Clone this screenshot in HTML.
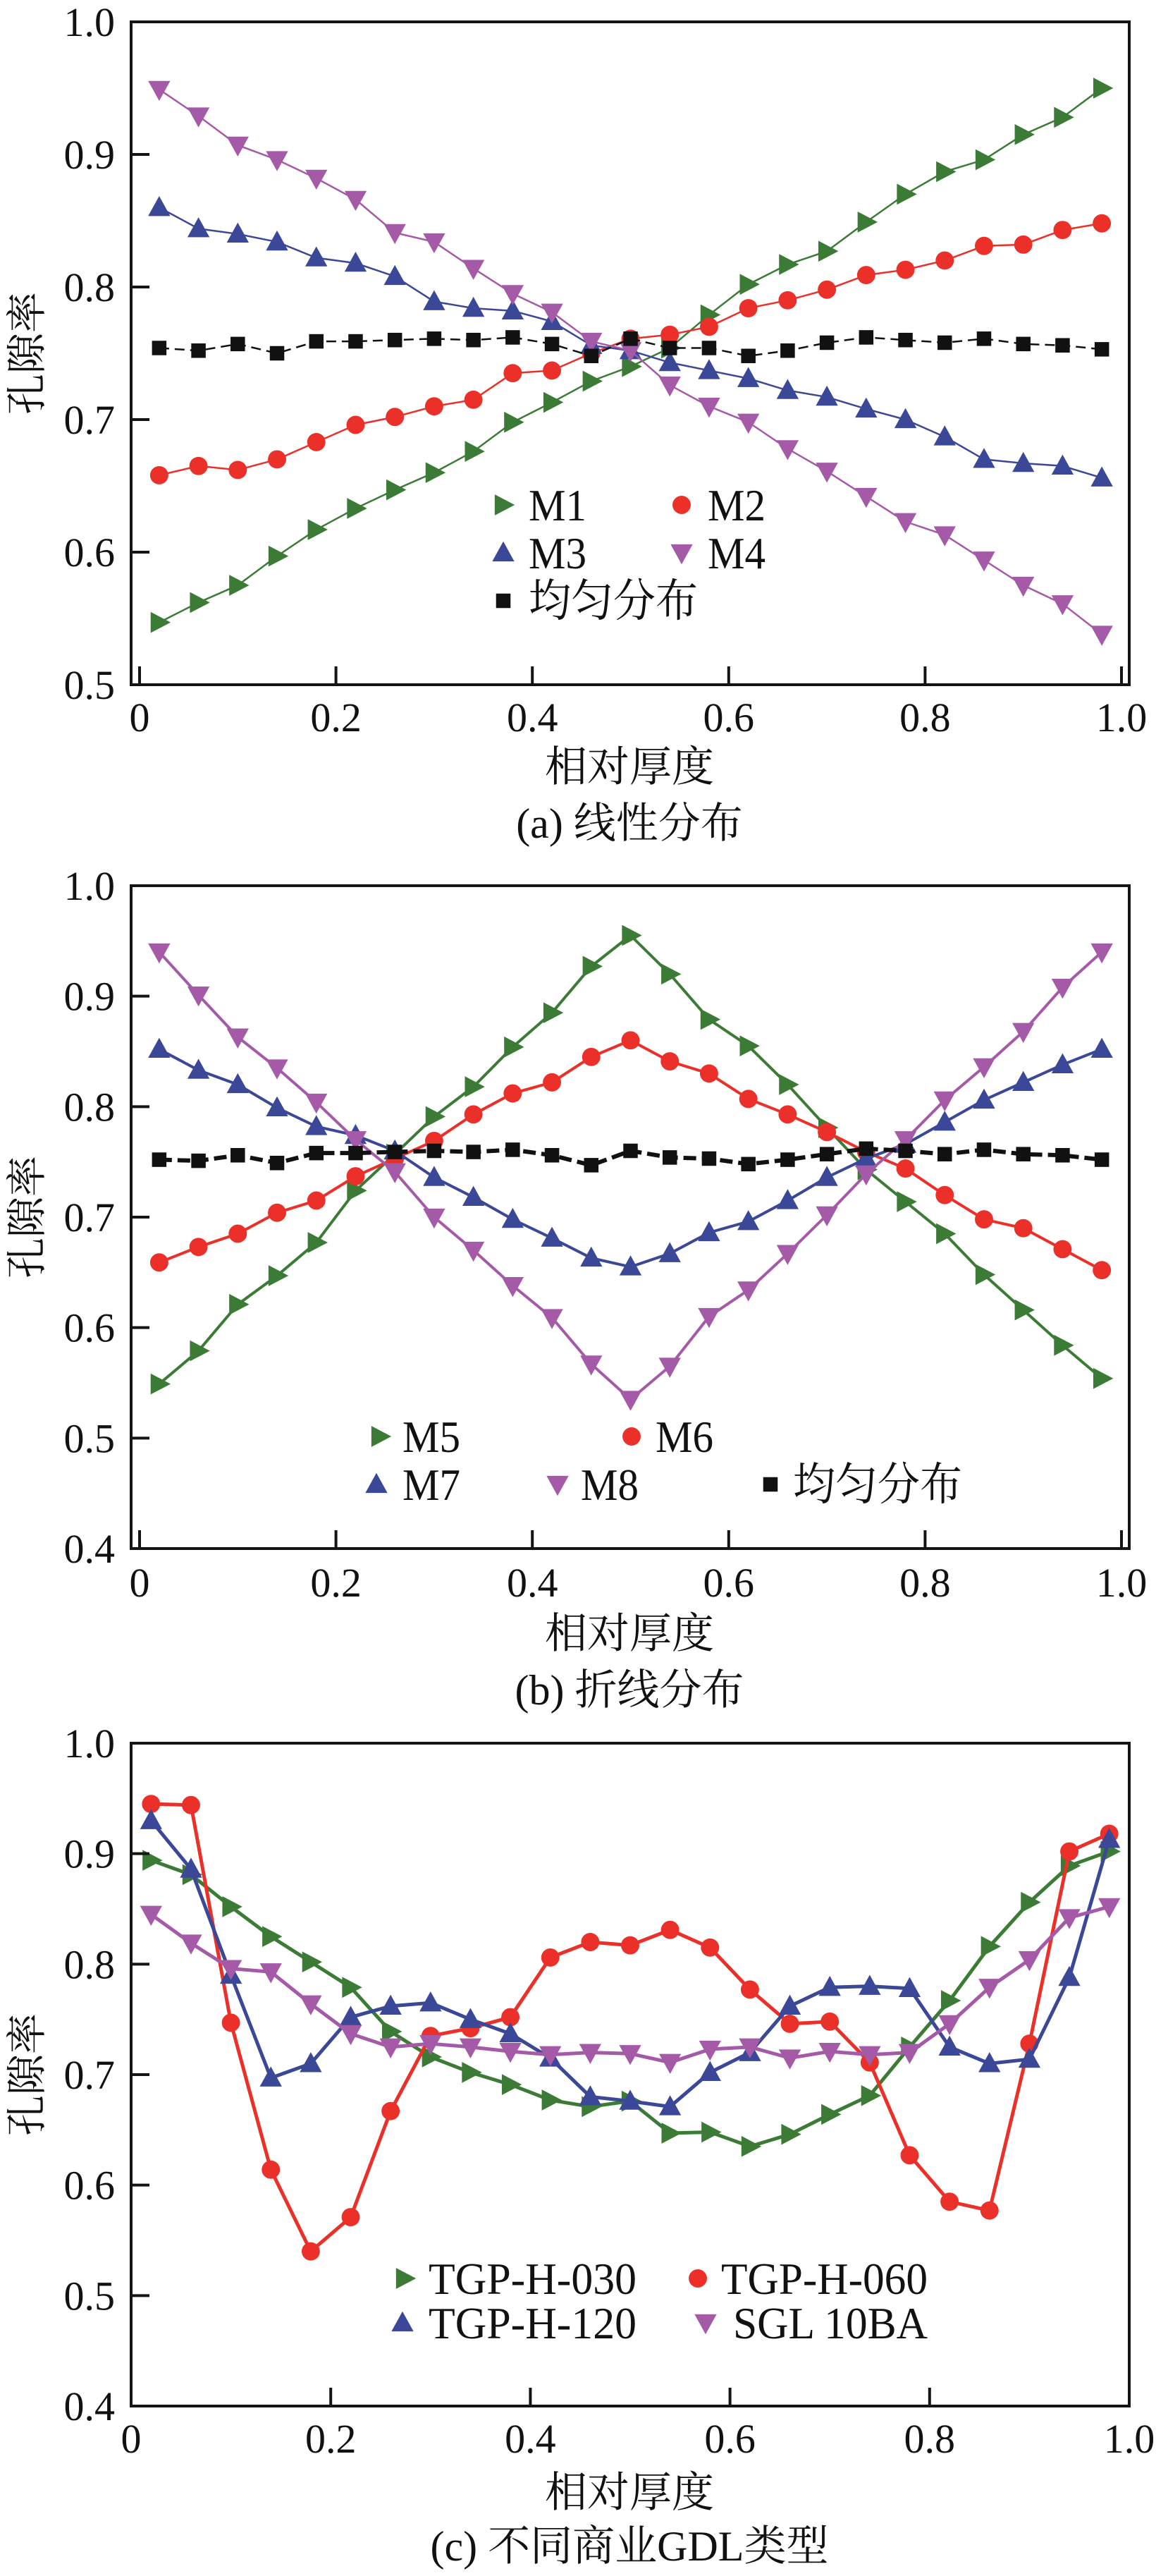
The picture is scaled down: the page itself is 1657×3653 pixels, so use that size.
<!DOCTYPE html>
<html><head><meta charset="utf-8">
<style>
html,body{margin:0;padding:0;background:#fff;}
svg{display:block;}
text{font-family:"Liberation Serif","Noto Serif CJK SC","Noto Sans CJK SC",serif;fill:#111;}
</style></head>
<body>
<svg id="fig" width="1657" height="3653" viewBox="0 0 1657 3653" xmlns="http://www.w3.org/2000/svg"></svg>
<script>
const xs = [0.02,0.06,0.10,0.14,0.18,0.22,0.26,0.30,0.34,0.38,0.42,0.46,0.50,0.54,0.58,0.62,0.66,0.70,0.74,0.78,0.82,0.86,0.90,0.94,0.98];
const aM1 = [0.547,0.562,0.575,0.597,0.617,0.633,0.647,0.660,0.676,0.698,0.713,0.729,0.740,0.754,0.779,0.802,0.817,0.827,0.849,0.870,0.887,0.896,0.915,0.928,0.950];
const aM2 = [0.658,0.665,0.662,0.670,0.683,0.696,0.702,0.710,0.715,0.735,0.737,0.750,0.761,0.764,0.770,0.784,0.790,0.798,0.809,0.813,0.820,0.831,0.832,0.843,0.848];
const aM3 = [0.860,0.844,0.840,0.834,0.822,0.818,0.808,0.789,0.784,0.782,0.774,0.756,0.752,0.743,0.737,0.731,0.722,0.717,0.708,0.700,0.687,0.670,0.667,0.665,0.656];
const aM4 = [0.949,0.929,0.907,0.896,0.882,0.866,0.841,0.834,0.814,0.795,0.781,0.759,0.752,0.726,0.710,0.698,0.678,0.661,0.642,0.623,0.613,0.594,0.575,0.561,0.538];
const aU = [0.754,0.752,0.757,0.750,0.759,0.759,0.760,0.761,0.760,0.762,0.757,0.748,0.761,0.754,0.754,0.748,0.752,0.758,0.762,0.760,0.758,0.761,0.757,0.756,0.753];
const bM5 = [0.549,0.579,0.621,0.647,0.677,0.724,0.757,0.791,0.818,0.854,0.885,0.927,0.955,0.920,0.879,0.855,0.820,0.781,0.743,0.714,0.685,0.648,0.616,0.584,0.554];
const bM6 = [0.659,0.673,0.685,0.704,0.715,0.737,0.753,0.769,0.793,0.812,0.822,0.845,0.860,0.841,0.830,0.807,0.793,0.777,0.759,0.744,0.720,0.698,0.690,0.671,0.652];
const bM7 = [0.852,0.833,0.820,0.799,0.782,0.774,0.760,0.736,0.718,0.698,0.681,0.663,0.655,0.667,0.686,0.696,0.715,0.736,0.753,0.766,0.786,0.806,0.822,0.838,0.852];
const bM8 = [0.940,0.901,0.863,0.835,0.804,0.770,0.741,0.700,0.670,0.638,0.609,0.567,0.535,0.565,0.610,0.634,0.667,0.702,0.739,0.770,0.806,0.836,0.868,0.908,0.940];
const bU = [0.752,0.751,0.756,0.749,0.758,0.758,0.759,0.760,0.759,0.761,0.756,0.747,0.760,0.754,0.753,0.748,0.752,0.757,0.762,0.760,0.757,0.761,0.757,0.756,0.752];
const c030 = [0.894,0.881,0.852,0.825,0.802,0.779,0.739,0.716,0.702,0.691,0.677,0.671,0.676,0.647,0.648,0.635,0.646,0.664,0.681,0.725,0.767,0.816,0.856,0.889,0.902];
const c060 = [0.945,0.944,0.747,0.614,0.540,0.571,0.667,0.735,0.742,0.752,0.806,0.820,0.817,0.831,0.815,0.777,0.746,0.748,0.711,0.627,0.585,0.577,0.728,0.902,0.918];
const c120 = [0.930,0.886,0.790,0.697,0.710,0.752,0.762,0.765,0.750,0.737,0.715,0.680,0.676,0.671,0.702,0.720,0.762,0.779,0.780,0.778,0.725,0.710,0.714,0.788,0.913];
const cSGL = [0.845,0.819,0.796,0.793,0.764,0.737,0.725,0.728,0.725,0.721,0.718,0.720,0.719,0.711,0.723,0.725,0.715,0.721,0.718,0.720,0.746,0.779,0.804,0.842,0.852];
const xTicksAB = [0,0.2,0.4,0.6,0.8,1.0];
const xTickLabels = ["0","0.2","0.4","0.6","0.8","1.0"];
const yTicksA = [0.5,0.6,0.7,0.8,0.9,1.0];
const yTicksBC = [0.4,0.5,0.6,0.7,0.8,0.9,1.0];

const NS="http://www.w3.org/2000/svg";
const svg=document.getElementById('fig');
const GREEN="#3b7b36",RED="#ea3029",BLUE="#3b4797",PURPLE="#a55aa8",BLACK="#111";
function mk(tag,attrs,parent){const e=document.createElementNS(NS,tag);for(const k in attrs)e.setAttribute(k,attrs[k]);(parent||svg).appendChild(e);return e;}

function marker(g,type,cx,cy,color,s){
  let e;
  if(type==='right'){e=mk('polygon',{points:`${cx-s*0.45},${cy-s*0.55} ${cx+s*0.6},${cy} ${cx-s*0.45},${cy+s*0.55}`,fill:color},g);}
  else if(type==='up'){e=mk('polygon',{points:`${cx-s*0.58},${cy+s*0.45} ${cx},${cy-s*0.6} ${cx+s*0.58},${cy+s*0.45}`,fill:color},g);}
  else if(type==='down'){e=mk('polygon',{points:`${cx-s*0.58},${cy-s*0.45} ${cx},${cy+s*0.6} ${cx+s*0.58},${cy-s*0.45}`,fill:color},g);}
  else if(type==='circle'){e=mk('circle',{cx:cx,cy:cy,r:s*0.48,fill:color},g);}
  else {e=mk('rect',{x:cx-s*0.38,y:cy-s*0.38,width:s*0.76,height:s*0.76,fill:color},g);}
  return e;
}

function panel(cfg){
  const g=mk('g',{});
  
  
  const L=186,R=1602,T=cfg.top,B=cfg.top+940;
  const X=v=>cfg.x0+v*cfg.xs;
  const Y=v=>B-(v-cfg.ymin)/(1-cfg.ymin)*940;
  cfg.series.forEach(s=>{
    const sg=mk('g',{},g);
    
    
    const pts=xs.map((x,i)=>X(x)+','+Y(s.vals[i])).join(' ');
    const pl=mk('polyline',{points:pts,fill:'none',stroke:s.color,'stroke-width':s.lw||cfg.lw,'stroke-dasharray':s.dash||'none'},sg);
    
    
    xs.forEach((x,i)=>{
      const m=marker(sg,s.mk,X(x),Y(s.vals[i]),s.color,cfg.ms);
      
      
    });
  });
  const fr=mk('rect',{x:L,y:T,width:R-L,height:B-T,fill:'none',stroke:'#141414','stroke-width':4},g);
  
  
  xTicksAB.forEach((v,i)=>{
    const tx=X(v);
    if(tx>L+3&&tx<R-3){const t=mk('line',{x1:tx,y1:B,x2:tx,y2:B-26,stroke:'#141414','stroke-width':4},g);
    
    }
    const lb=mk('text',{x:tx,y:cfg.xlabY,'font-size':58,'text-anchor':'middle'},g);
    lb.textContent=xTickLabels[i];
    
    
  });
  cfg.yticks.forEach(v=>{
    const ty=Y(v);
    if(ty>T+3&&ty<B-3){const t=mk('line',{x1:L,y1:ty,x2:L+26,y2:ty,stroke:'#141414','stroke-width':4},g);
    
    }
    const lb=mk('text',{x:163,y:ty+20,'font-size':58,'text-anchor':'end'},g);
    lb.textContent=v.toFixed(1);
    
    
  });
  const xt=mk('text',{x:893,y:cfg.xtitleY+21,'font-size':60,'text-anchor':'middle'},g);
  xt.textContent='相对厚度';
  
  
  const cy=(T+B)/2;
  const yt=mk('text',{x:0,y:0,'font-size':58,'text-anchor':'middle',transform:`translate(58,${cy}) rotate(-90)`},g);
  yt.textContent='孔隙率';
  
  
  const cp=mk('text',{x:893,y:cfg.capY+21,'font-size':60,'text-anchor':'middle'},g);
  cp.textContent=cfg.caption;
  
  
  const lg=mk('g',{},g);
  
  
  cfg.legend.forEach(e=>{
    const eg=mk('g',{},lg);
    
    
    marker(eg,e.mk,e.mx,e.y,e.color,cfg.ms);
    const t=mk('text',{x:e.tx,y:e.y+22,'font-size':64,textLength:e.tl,lengthAdjust:'spacingAndGlyphs'},eg);
    t.textContent=e.label;
  });
}

panel({name:'panel-a-linear',top:31,ymin:0.5,x0:198,xs:1393,lw:2.5,ms:27,xlabY:1037,xtitleY:1087,capY:1167,caption:'(a) 线性分布',yticks:yTicksA,
  series:[{id:'M1',vals:aM1,color:GREEN,mk:'right'},{id:'M2',vals:aM2,color:RED,mk:'circle'},{id:'M3',vals:aM3,color:BLUE,mk:'up'},{id:'M4',vals:aM4,color:PURPLE,mk:'down'},{id:'uniform',vals:aU,color:BLACK,mk:'square',dash:'14 8'}],
  legend:[{label:'M1',mk:'right',color:GREEN,mx:714,tx:750,y:716,tl:82},{label:'M2',mk:'circle',color:RED,mx:967,tx:1004,y:716,tl:82},
          {label:'M3',mk:'up',color:BLUE,mx:714,tx:750,y:784,tl:82},{label:'M4',mk:'down',color:PURPLE,mx:967,tx:1004,y:784,tl:82},
          {label:'均匀分布',mk:'square',color:BLACK,mx:714,tx:750,y:852,tl:240}]});
panel({name:'panel-b-polyline',top:1256,ymin:0.4,x0:198,xs:1393,lw:4,ms:27,xlabY:2264,xtitleY:2316,capY:2396,caption:'(b) 折线分布',yticks:yTicksBC,
  series:[{id:'M5',vals:bM5,color:GREEN,mk:'right'},{id:'M6',vals:bM6,color:RED,mk:'circle'},{id:'M7',vals:bM7,color:BLUE,mk:'up'},{id:'M8',vals:bM8,color:PURPLE,mk:'down'},{id:'uniform',vals:bU,color:BLACK,mk:'square',dash:'18 8',lw:6}],
  legend:[{label:'M5',mk:'right',color:GREEN,mx:539,tx:571,y:2037,tl:82},{label:'M6',mk:'circle',color:RED,mx:896,tx:930,y:2037,tl:82},
          {label:'M7',mk:'up',color:BLUE,mx:534,tx:571,y:2105,tl:82},{label:'M8',mk:'down',color:PURPLE,mx:791,tx:824,y:2105,tl:82},
          {label:'均匀分布',mk:'square',color:BLACK,mx:1093,tx:1125,y:2105,tl:240}]});
panel({name:'panel-c-commercial-gdl',top:2472,ymin:0.4,x0:186,xs:1416,lw:5,ms:27,xlabY:3478,xtitleY:3534,capY:3610,caption:'(c) 不同商业GDL类型',yticks:yTicksBC,
  series:[{id:'TGP-H-030',vals:c030,color:GREEN,mk:'right'},{id:'TGP-H-060',vals:c060,color:RED,mk:'circle'},{id:'TGP-H-120',vals:c120,color:BLUE,mk:'up'},{id:'SGL-10BA',vals:cSGL,color:PURPLE,mk:'down'}],
  legend:[{label:'TGP-H-030',mk:'right',color:GREEN,mx:574,tx:608,y:3231,tl:295},{label:'TGP-H-060',mk:'circle',color:RED,mx:990,tx:1023,y:3231,tl:293},
          {label:'TGP-H-120',mk:'up',color:BLUE,mx:571,tx:608,y:3294,tl:295},{label:'SGL 10BA',mk:'down',color:PURPLE,mx:1001,tx:1040,y:3294,tl:276}]});
</script>
</body></html>
